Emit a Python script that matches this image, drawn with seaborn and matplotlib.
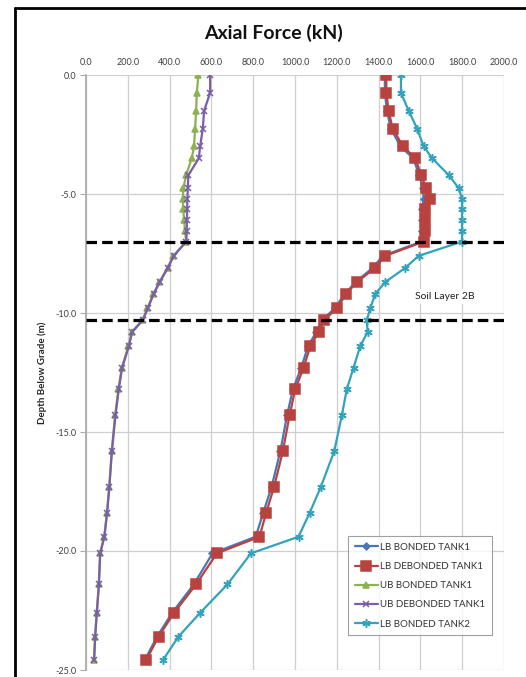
import matplotlib
matplotlib.use("Agg")
import matplotlib.pyplot as plt
import seaborn as sns
from matplotlib.lines import Line2D

# depth below grade (m) of every output point
depth = [0, 0.75, 1.5, 2.25, 3.0, 3.5, 4.2, 4.75, 5.2, 5.65, 6.1, 6.55, 7.0,
         7.6, 8.1, 8.7, 9.2, 9.8, 10.3, 10.8, 11.4, 12.3, 13.2, 14.3,
         15.8, 17.3, 18.4, 19.4, 20.1, 21.4, 22.6, 23.6, 24.6]

# axial force (kN)
lb_bonded_t1 = [1430, 1430, 1440, 1458, 1505, 1565, 1595, 1612, 1615, 1610, 1610, 1610, 1605,
                1420, 1372, 1290, 1238, 1190, 1130, 1102, 1062, 1030, 990, 962,
                930, 888, 848, 812, 605, 516, 412, 340, 280]
lb_debonded_t1 = [1437, 1437, 1448, 1467, 1517, 1576, 1603, 1628, 1644, 1624, 1624, 1624, 1616,
                  1432, 1384, 1296, 1245, 1200, 1140, 1113, 1073, 1041, 1001, 974,
                  942, 900, 862, 830, 626, 527, 421, 347, 287]
ub_bonded_t1 = [538, 530, 527, 522, 517, 506, 479, 466, 463, 466, 469, 474, 479,
                418, 390, 351, 322, 294, 270, 219, 203, 171, 155, 139,
                123, 111, 100, 87, 67, 61, 51, 43, 38]
ub_debonded_t1 = [594, 594, 565, 559, 546, 540, 490, 487, 485, 484, 483, 482, 480,
                  420, 392, 353, 324, 296, 272, 221, 205, 173, 157, 141,
                  124, 112, 101, 88, 68, 62, 52, 44, 39]
lb_bonded_t2 = [1507, 1507, 1544, 1584, 1616, 1656, 1735, 1783, 1799, 1799, 1799, 1799, 1799,
                1591, 1528, 1432, 1384, 1360, 1344, 1347, 1312, 1280, 1248, 1224,
                1188, 1124, 1070, 1017, 789, 677, 546, 442, 367]

layer_tops = [7.0, 10.3]
x_ticks = [0, 200, 400, 600, 800, 1000, 1200, 1400, 1600, 1800, 2000]
y_ticks = [0, -5, -10, -15, -20, -25]

sns.set_theme(style="white")
plt.rcParams['font.family'] = ['Lato', 'DejaVu Sans']

W, H = 526, 677
fig = plt.figure(figsize=(W / 100, H / 100), dpi=100)
ax = fig.add_axes([86 / W, 1 - 670 / H, (504 - 86) / W, (670 - 75) / H])

neg_depth = [-d for d in depth]
series = [
    ("LB BONDED TANK1", lb_bonded_t1, "#4A76B8", "D", 3.5),
    ("LB DEBONDED TANK1", lb_debonded_t1, "#B8423F", "s", 6.5),
    ("UB BONDED TANK1", ub_bonded_t1, "#8DB050", "^", 5.0),
    ("UB DEBONDED TANK1", ub_debonded_t1, "#7A5EA8", "x", 5.0),
    ("LB BONDED TANK2", lb_bonded_t2, "#33A3BD", (6, 2, 0), 6.0),
]
for name, vals, col, mk, ms in series:
    sns.lineplot(x=vals, y=neg_depth, sort=False, estimator=None, ax=ax,
                 color=col, marker=mk, markersize=ms, markeredgecolor=col,
                 markerfacecolor=col, markeredgewidth=1.1, linewidth=1.6, label=name)

for d in layer_tops:
    ax.axhline(-d, color="black", linewidth=2.3, linestyle=(0, (3.3, 1.6)), zorder=6)

ax.text(1715, -9.3, "Soil Layer 2B", fontsize=7.5, ha="center", va="center",
        color="#222222", zorder=7,
        bbox=dict(facecolor="white", edgecolor="none", pad=2))

ax.set_xlim(0, 2000)
ax.set_ylim(-25, 0)
ax.xaxis.tick_top()
ax.set_xticks(x_ticks)
ax.set_xticklabels([f"{v:.1f}" for v in x_ticks])
ax.set_yticks(y_ticks)
ax.set_yticklabels([f"{v:.1f}" for v in y_ticks])
ax.tick_params(axis="x", length=0, pad=6, labelsize=6.5, labelcolor="#404040")
ax.tick_params(axis="y", left=True, length=4, width=0.8, color="#aaaaaa",
               pad=3, labelsize=6.5, labelcolor="#404040")
ax.grid(True, color="#cfcfcf", linewidth=0.9)
for side in ["top", "right", "bottom"]:
    ax.spines[side].set_visible(False)
ax.spines["left"].set_color("#aaaaaa")
ax.set_ylabel("Depth Below Grade (m)", fontsize=7, fontweight="bold", labelpad=6)
ax.set_xlabel("")

leg = ax.legend(loc="lower left", bbox_to_anchor=(0.615, 0.05), fontsize=7,
                frameon=True, fancybox=False, edgecolor="#888888",
                handlelength=2.4, labelspacing=1.05, borderpad=0.7, handletextpad=0.2)
leg.get_frame().set_linewidth(0.8)
for t in leg.get_texts():
    t.set_color("#333333")

fig.text(273 / W, 1 - 33 / H, "Axial Force (kN)", fontsize=14, fontweight="bold",
         ha="center", va="center", color="#111111")

# outer frame (left and top edges of the chart box)
fig.add_artist(Line2D([15 / W, 15 / W], [0, 1 - 8 / H], color="black", linewidth=2,
                      transform=fig.transFigure))
fig.add_artist(Line2D([15 / W, 1], [1 - 8 / H, 1 - 8 / H], color="black", linewidth=2,
                      transform=fig.transFigure))

fig.savefig("out.png", dpi=100)
